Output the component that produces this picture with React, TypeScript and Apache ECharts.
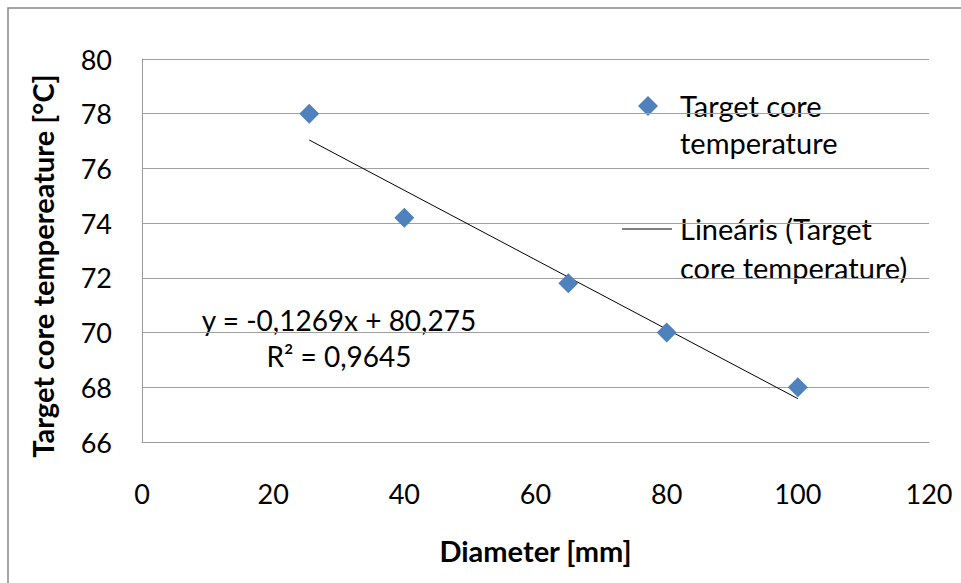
import React, { useEffect, useRef } from "react";
import * as echarts from "echarts";

const diameters = [25.5, 40, 65, 80, 100];
const temperatures = [78, 74.2, 71.8, 70, 68];
const trendSlope = -0.1269;
const trendIntercept = 80.275;
const xTicks = { min: 0, max: 120, interval: 20 };
const yTicks = { min: 66, max: 80, interval: 2 };
const seriesName = "Target core temperature";
const trendName = "Lineáris (Target core temperature)";

const FONT = "Lato, 'Liberation Sans', sans-serif";

export default function App() {
  const ref = useRef<HTMLDivElement>(null);
  useEffect(() => {
    if (!ref.current) return;
    const chart = echarts.init(ref.current, null, { renderer: "svg" });
    const xStart = diameters[0];
    const xEnd = diameters[diameters.length - 1];
    const trendData = [
      [xStart, trendIntercept + trendSlope * xStart],
      [xEnd, trendIntercept + trendSlope * xEnd],
    ];
    chart.setOption({
      animation: false,
      backgroundColor: "#ffffff",
      grid: { left: 142, top: 59, right: 32, bottom: 141 },
      xAxis: {
        type: "value",
        min: xTicks.min,
        max: xTicks.max,
        interval: xTicks.interval,
        name: "Diameter [mm]",
        nameLocation: "middle",
        nameGap: 94,
        nameTextStyle: { fontFamily: FONT, fontSize: 29, fontWeight: "bold", color: "#000" },
        axisLine: { show: true, lineStyle: { color: "#9a9a9a", width: 1 } },
        axisTick: { show: false },
        splitLine: { show: false },
        axisLabel: { margin: 38, fontFamily: FONT, fontSize: 27, color: "#000" },
      },
      yAxis: {
        type: "value",
        min: yTicks.min,
        max: yTicks.max,
        interval: yTicks.interval,
        axisLine: { show: true, lineStyle: { color: "#9a9a9a", width: 1 } },
        axisTick: { show: false },
        splitLine: { show: true, lineStyle: { color: "#a0a0a0", width: 1 } },
        axisLabel: { margin: 30, fontFamily: FONT, fontSize: 27, color: "#000" },
      },
      series: [
        {
          name: trendName,
          type: "line",
          data: trendData,
          symbol: "none",
          lineStyle: { color: "#000", width: 1 },
          z: 2,
        },
        {
          name: seriesName,
          type: "scatter",
          data: diameters.map((d, i) => [d, temperatures[i]]),
          symbol: "diamond",
          symbolSize: 20,
          itemStyle: { color: "#4F81BD", opacity: 1 },
          z: 3,
        },
      ],
      graphic: [
        {
          type: "rect",
          shape: { x: 8, y: 8, width: 1000, height: 1000 },
          style: { fill: "none", stroke: "#888888", lineWidth: 1.5 },
          silent: true,
        },
        {
          type: "text",
          x: 42,
          y: 266,
          rotation: Math.PI / 2,
          style: {
            text: "Target core tempereature [°C]",
            font: `bold 29px ${FONT}`,
            fill: "#000",
            align: "center",
            verticalAlign: "middle",
          },
        },
        {
          type: "polygon",
          shape: { points: [[648, 96], [658, 106], [648, 116], [638, 106]] },
          style: { fill: "#4F81BD" },
        },
        {
          type: "text",
          x: 680,
          y: 87,
          style: {
            text: "Target core\ntemperature",
            font: `29px ${FONT}`,
            lineHeight: 37,
            fill: "#000",
            align: "left",
            verticalAlign: "top",
          },
        },
        {
          type: "line",
          shape: { x1: 622, y1: 229, x2: 672, y2: 229 },
          style: { stroke: "#000", lineWidth: 1 },
        },
        {
          type: "text",
          x: 680,
          y: 209,
          style: {
            text: "Lineáris (Target\ncore temperature)",
            font: `29px ${FONT}`,
            lineHeight: 39,
            fill: "#000",
            align: "left",
            verticalAlign: "top",
          },
        },
        {
          type: "text",
          x: 339,
          y: 302,
          style: {
            text: "y = -0,1269x + 80,275\nR² = 0,9645",
            font: `28px ${FONT}`,
            lineHeight: 36,
            fill: "#000",
            align: "center",
            verticalAlign: "top",
          },
        },
      ],
    });
    return () => chart.dispose();
  }, []);
  return (
    <div
      ref={ref}
      style={{ position: "fixed", left: 0, top: 0, width: 961, height: 583 }}
    />
  );
}
